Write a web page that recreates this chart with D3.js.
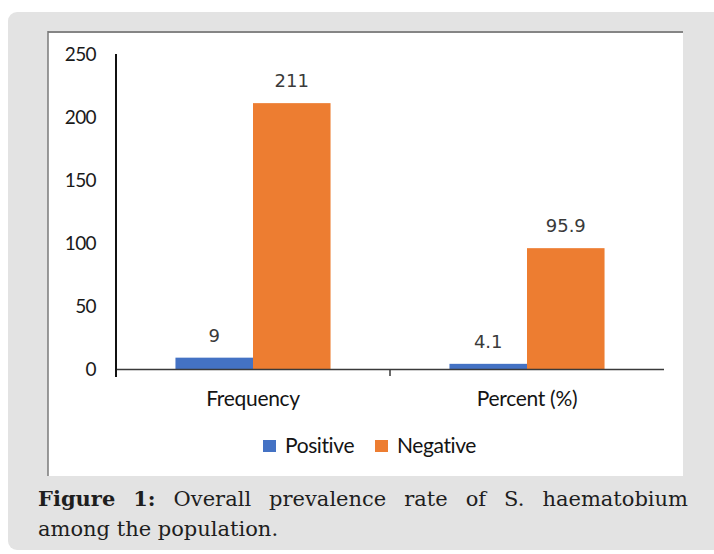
<!DOCTYPE html>
<html>
<head>
<meta charset="utf-8">
<script src="https://cdn.jsdelivr.net/npm/d3@7"></script>
<style>
  html, body { margin: 0; padding: 0; background: #ffffff; }
  svg { display: block; }
</style>
</head>
<body>
<svg id="chart" width="714" height="554"></svg>
<script>
const categories = ["Frequency", "Percent (%)"];
const seriesNames = ["Positive", "Negative"];
const positiveValues = [9, 4.1];
const negativeValues = [211, 95.9];
const valueLabels = { Positive: ["9", "4.1"], Negative: ["211", "95.9"] };
const yTicks = [0, 50, 100, 150, 200, 250];
const colors = { Positive: "#4472C4", Negative: "#ED7D31" };
const captionBold = "Figure 1:";
const captionLine1 = "Overall prevalence rate of S. haematobium";
const captionLine2 = "among the population.";

const data = categories.map((c, i) => ({
  category: c,
  values: [
    { series: "Positive", value: positiveValues[i], label: valueLabels.Positive[i] },
    { series: "Negative", value: negativeValues[i], label: valueLabels.Negative[i] }
  ]
}));

const svg = d3.select("#chart");

// background panels
svg.append("rect").attr("x", 8).attr("y", 12).attr("width", 720).attr("height", 538)
  .attr("rx", 9).attr("fill", "#e3e3e3");
svg.append("rect").attr("x", 48).attr("y", 32).attr("width", 635).attr("height", 444)
  .attr("fill", "#ffffff");
svg.append("line").attr("x1", 48).attr("x2", 683).attr("y1", 32).attr("y2", 32)
  .attr("stroke", "#858585").attr("stroke-width", 2);
svg.append("line").attr("x1", 48).attr("x2", 48).attr("y1", 31).attr("y2", 476)
  .attr("stroke", "#7a7a7a").attr("stroke-width", 1.5);

// scales
const x0 = d3.scaleBand().domain(categories).range([116, 664])
  .paddingInner(0.434).paddingOuter(0.217);
const x1 = d3.scaleBand().domain(seriesNames).range([0, x0.bandwidth()]);
const y = d3.scaleLinear().domain([0, 250]).range([369, 54]);

const sansFont = "Lato, 'Open Sans', sans-serif";

// y axis labels
const yAxis = d3.axisLeft(y).tickValues(yTicks).tickSize(0).tickPadding(20);
const gy = svg.append("g").attr("transform", "translate(116,0)").call(yAxis);
gy.select(".domain").remove();
gy.selectAll("text")
  .attr("font-family", sansFont)
  .attr("font-size", 19).attr("letter-spacing", "-0.6")
  .attr("fill", "#1a1a1a").attr("dy", "0.36em");

// bars
const groups = svg.append("g").selectAll("g").data(data).join("g")
  .attr("transform", d => `translate(${x0(d.category)},0)`);
groups.selectAll("rect").data(d => d.values).join("rect")
  .attr("x", d => x1(d.series))
  .attr("width", x1.bandwidth())
  .attr("y", d => y(d.value))
  .attr("height", d => y(0) - y(d.value))
  .attr("fill", d => colors[d.series]);
groups.selectAll("text").data(d => d.values).join("text")
  .attr("x", d => x1(d.series) + x1.bandwidth() / 2)
  .attr("y", d => y(d.value) - 16)
  .attr("text-anchor", "middle")
  .attr("font-family", "'DejaVu Sans', sans-serif")
  .attr("font-size", 18)
  .attr("fill", "#3a3a3a")
  .text(d => d.label);

// x axis
const xAxisG = svg.append("g");
xAxisG.append("line").attr("x1", 116).attr("x2", 664).attr("y1", y(0) + 0.5).attr("y2", y(0) + 0.5)
  .attr("stroke", "#3a3a3a").attr("stroke-width", 1.5);
const boundaries = [x0.range()[0], (x0(categories[0]) + x0.bandwidth() + x0(categories[1])) / 2];
xAxisG.selectAll("line.tick").data(boundaries).join("line").attr("class", "tick")
  .attr("x1", d => d).attr("x2", d => d).attr("y1", y(0)).attr("y2", y(0) + 7)
  .attr("stroke", "#3a3a3a").attr("stroke-width", 1.5);
xAxisG.selectAll("text").data(categories).join("text")
  .attr("x", d => x0(d) + x0.bandwidth() / 2)
  .attr("y", 406)
  .attr("text-anchor", "middle")
  .attr("font-family", sansFont)
  .attr("font-size", 21).attr("letter-spacing", "-0.3")
  .attr("fill", "#141414")
  .text(d => d);

// y axis line
svg.append("line").attr("x1", 116).attr("x2", 116).attr("y1", y(250)).attr("y2", 377)
  .attr("stroke", "#111").attr("stroke-width", 2);

// legend
const legendX = [263, 375];
const lg = svg.append("g").selectAll("g").data(seriesNames).join("g")
  .attr("transform", (d, i) => `translate(${legendX[i]},440)`);
lg.append("rect").attr("width", 13).attr("height", 12).attr("fill", d => colors[d]);
lg.append("text").attr("x", 22).attr("y", 12.5)
  .attr("font-family", sansFont)
  .attr("font-size", 21).attr("letter-spacing", "-0.4")
  .attr("fill", "#141414").text(d => d);

// caption (justified first line)
const capFont = "'DejaVu Serif', serif";
const capSize = 21;
const left = 38, right = 688;
const words = [{ t: "Figure", b: true }, { t: "1:", b: true }]
  .concat(captionLine1.split(" ").map(t => ({ t, b: false })));
const cap = svg.append("g").attr("font-family", capFont).attr("font-size", capSize).attr("fill", "#1e1e1e");
const wordNodes = cap.selectAll("text.w").data(words).join("text").attr("class", "w")
  .attr("y", 506)
  .attr("font-weight", d => d.b ? "bold" : "normal")
  .text(d => d.t);
const widths = [];
wordNodes.each(function() { widths.push(this.getComputedTextLength()); });
const total = d3.sum(widths);
const gap = (right - left - total) / (words.length - 1);
let cx = left;
wordNodes.attr("x", (d, i) => { const v = cx; cx += widths[i] + gap; return v; });
cap.append("text").attr("x", left).attr("y", 536).text(captionLine2);
</script>
</body>
</html>
